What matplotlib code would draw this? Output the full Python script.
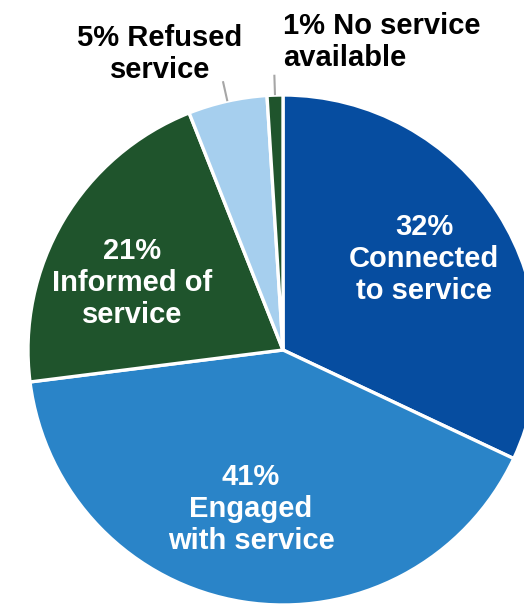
import numpy as np
import matplotlib.pyplot as plt

# Outcome shares (percent), clockwise from 12 o'clock
categories = ["Connected\nto service", "Engaged\nwith service", "Informed of\nservice",
              "Refused\nservice", "No service\navailable"]
shares = [32, 41, 21, 5, 1]
colors = ["#064DA0", "#2A84C8", "#1F542C", "#A6CFEE", "#1F542C"]

W, H = 524, 605
fig = plt.figure(figsize=(W / 100, H / 100), dpi=100)
ax = fig.add_axes([0, 0, 1, 1])

cx, cy, r = 283, H - 350, 255
wedges, _ = ax.pie(shares, colors=colors, startangle=90, counterclock=False,
                   center=(cx, cy), radius=r,
                   wedgeprops=dict(edgecolor="white", linewidth=2.4))
ax.set_xlim(0, W)
ax.set_ylim(0, H)
ax.set_aspect("equal")
ax.axis("off")

font = dict(family=["Liberation Sans", "DejaVu Sans"], fontweight="bold", fontsize=21)

# Labels inside the large slices
inside_pos = {0: (424, 259), 1: (251, 509), 2: (132, 283)}
for i, (x, y) in inside_pos.items():
    ax.text(x, H - y, f"{shares[i]}%\n{categories[i]}", color="white",
            ha="center", va="center", linespacing=1.17, **font)

# Labels outside the two small slices, with radial leader lines
outside = {3: ((160, 54), "center"), 4: ((283, 42), "left")}
for i, ((x, y), ha) in outside.items():
    ax.text(x, H - y, f"{shares[i]}% {categories[i]}", color="black",
            ha=ha, va="center", linespacing=1.17, **font)
    w = wedges[i]
    mid = np.deg2rad((w.theta1 + w.theta2) / 2)
    r0, r1 = r * 1.0, r * 1.08
    ax.plot([cx + r0 * np.cos(mid), cx + r1 * np.cos(mid)],
            [cy + r0 * np.sin(mid), cy + r1 * np.sin(mid)],
            color="#A6A6A6", lw=1.5, solid_capstyle="butt")

fig.savefig("out.png", dpi=100)
